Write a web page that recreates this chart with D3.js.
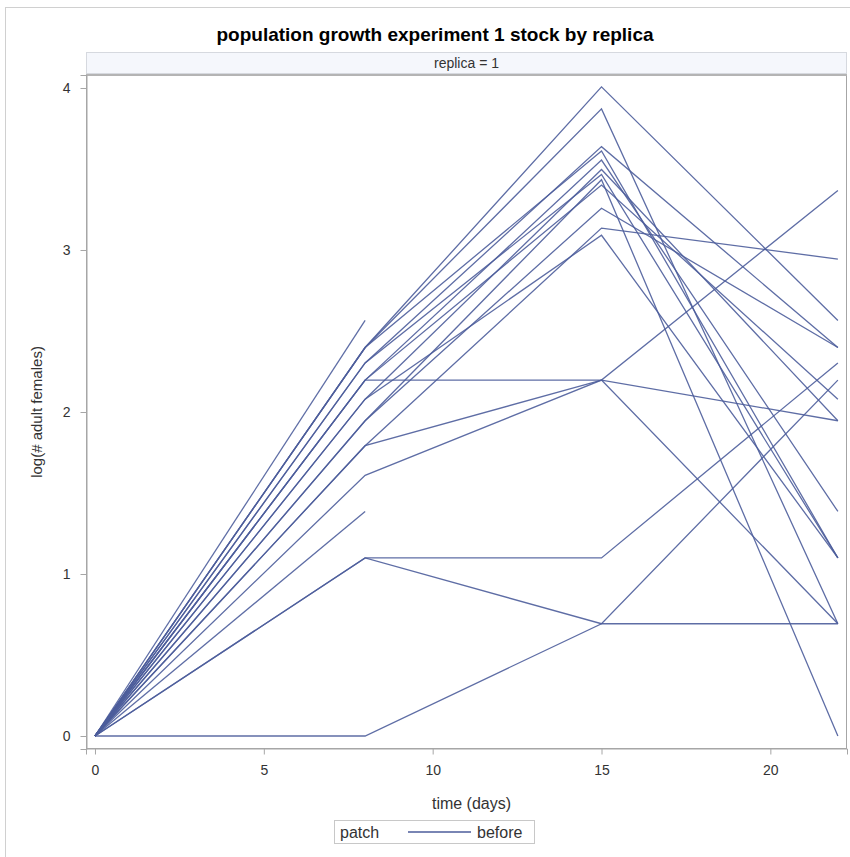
<!DOCTYPE html>
<html>
<head>
<meta charset="utf-8">
<script src="https://cdnjs.cloudflare.com/ajax/libs/d3/7.8.5/d3.min.js"></script>
<style>
  html, body { margin: 0; padding: 0; background: #fff; }
  svg { display: block; font-family: "Liberation Sans", Arial, sans-serif; }
</style>
</head>
<body>
<svg id="chart" width="850" height="857"></svg>
<script>
// Sampling days
const days = [0, 8, 15, 22];

// log(# adult females) for each patch, one entry per sampling day (null = not recorded)
const patch01 = [0, 2.565, null, null];
const patch02 = [0, 1.386, null, null];
const patch03 = [0, 2.398, 4.007, 2.565];
const patch04 = [0, 2.398, 3.871, 0.693];
const patch05 = [0, 2.303, 3.638, 2.398];
const patch06 = [0, 2.398, 3.611, 1.099];
const patch07 = [0, 2.197, 3.555, 1.386];
const patch08 = [0, 2.079, 3.497, 1.946];
const patch09 = [0, 2.303, 3.466, 1.099];
const patch10 = [0, 1.946, 3.434, 0];
const patch11 = [0, 2.197, 3.401, 2.079];
const patch12 = [0, 1.946, 3.258, 2.398];
const patch13 = [0, 1.792, 3.135, 2.944];
const patch14 = [0, 2.079, 3.091, 1.099];
const patch15 = [0, 2.197, 2.197, 3.367];
const patch16 = [0, 1.792, 2.197, 1.946];
const patch17 = [0, 1.609, 2.197, 0.693];
const patch18 = [0, 1.099, 1.099, 2.303];
const patch19 = [0, 1.099, 0.693, 0.693];
const patch20 = [0, 0, 0.693, 2.197];

const patches = [patch01, patch02, patch03, patch04, patch05, patch06, patch07,
  patch08, patch09, patch10, patch11, patch12, patch13, patch14, patch15,
  patch16, patch17, patch18, patch19, patch20];

const xTicks = [0, 5, 10, 15, 20];
const yTicks = [0, 1, 2, 3, 4];

const titleText = "population growth experiment 1 stock by replica";
const panelText = "replica = 1";
const xLabel = "time (days)";
const yLabel = "log(# adult females)";
const legendTitle = "patch";
const legendEntry = "before";

const lineColor = "#4d5d9b";
const axisColor = "#a6a6a6";
const textColor = "#333";

const svg = d3.select("#chart");

// outer frame
svg.append("rect")
  .attr("x", 5.5).attr("y", 7.5).attr("width", 860).attr("height", 860)
  .attr("fill", "none").attr("stroke", "#d0d0d0");

// plot area
const plot = { left: 86, right: 847, top: 75, bottom: 749 };

const x = d3.scaleLinear().domain([-0.266, 22.27]).range([plot.left, plot.right]);
const y = d3.scaleLinear().domain([-0.0802, 4.0802]).range([plot.bottom, plot.top]);

// title
svg.append("text")
  .attr("x", 435).attr("y", 41)
  .attr("text-anchor", "middle")
  .attr("font-size", 19).attr("font-weight", "bold").attr("fill", "#000")
  .text(titleText);

// panel header strip
svg.append("rect")
  .attr("x", plot.left + 0.5).attr("y", 52.5)
  .attr("width", plot.right - plot.left - 1).attr("height", 21)
  .attr("fill", "#f5f7fc").attr("stroke", "#d6d9df");
svg.append("text")
  .attr("x", (plot.left + plot.right) / 2).attr("y", 68)
  .attr("text-anchor", "middle").attr("font-size", 14).attr("fill", textColor)
  .text(panelText);

// clip for data lines
svg.append("clipPath").attr("id", "plotclip")
  .append("rect")
  .attr("x", plot.left).attr("y", plot.top)
  .attr("width", plot.right - plot.left).attr("height", plot.bottom - plot.top);

const line = d3.line()
  .defined(d => d.v !== null)
  .x(d => x(d.t))
  .y(d => y(d.v));

svg.append("g")
  .attr("clip-path", "url(#plotclip)")
  .selectAll("path")
  .data(patches.map(p => p.map((v, i) => ({ t: days[i], v }))))
  .join("path")
  .attr("d", line)
  .attr("fill", "none")
  .attr("stroke", lineColor)
  .attr("stroke-width", 1.3)
  .attr("stroke-opacity", 0.9);

// plot frame
svg.append("rect")
  .attr("x", plot.left + 0.5).attr("y", plot.top + 0.5)
  .attr("width", plot.right - plot.left - 1).attr("height", plot.bottom - plot.top - 1)
  .attr("fill", "none").attr("stroke", axisColor);
svg.append("line")
  .attr("x1", plot.left).attr("x2", plot.right)
  .attr("y1", plot.top).attr("y2", plot.top)
  .attr("stroke", "#b4b4b4").attr("stroke-width", 2);

// axes
const xAxis = d3.axisBottom(x).tickValues(xTicks).tickSize(6).tickPadding(11)
  .tickFormat(d3.format("d"));
const yAxis = d3.axisLeft(y).tickValues(yTicks).tickSize(6).tickPadding(10)
  .tickFormat(d3.format("d"));

const gx = svg.append("g").attr("transform", `translate(0,${plot.bottom - 0.5})`).call(xAxis);
const gy = svg.append("g").attr("transform", `translate(${plot.left + 0.5},0)`).call(yAxis);

[gx, gy].forEach(g => {
  g.select(".domain").attr("stroke", axisColor);
  g.selectAll(".tick line").attr("stroke", axisColor);
  g.selectAll(".tick text")
    .attr("font-size", 14).attr("fill", textColor)
    .attr("font-family", "\"Liberation Sans\", Arial, sans-serif");
});

// axis titles
svg.append("text")
  .attr("x", (plot.left + plot.right) / 2 + 5).attr("y", 809)
  .attr("text-anchor", "middle").attr("font-size", 16).attr("fill", textColor)
  .text(xLabel);
svg.append("text")
  .attr("transform", `translate(42,${(plot.top + plot.bottom) / 2}) rotate(-90)`)
  .attr("text-anchor", "middle").attr("font-size", 15).attr("fill", textColor)
  .text(yLabel);

// legend
const legend = svg.append("g");
legend.append("rect")
  .attr("x", 334.5).attr("y", 820.5).attr("width", 200).attr("height", 23)
  .attr("fill", "#fff").attr("stroke", "#c8c8c8");
legend.append("text")
  .attr("x", 340).attr("y", 838).attr("font-size", 16).attr("fill", textColor)
  .text(legendTitle);
legend.append("line")
  .attr("x1", 408).attr("x2", 471).attr("y1", 832).attr("y2", 832)
  .attr("stroke", lineColor).attr("stroke-width", 1.3);
legend.append("text")
  .attr("x", 477).attr("y", 838).attr("font-size", 16).attr("fill", textColor)
  .text(legendEntry);
</script>
</body>
</html>
